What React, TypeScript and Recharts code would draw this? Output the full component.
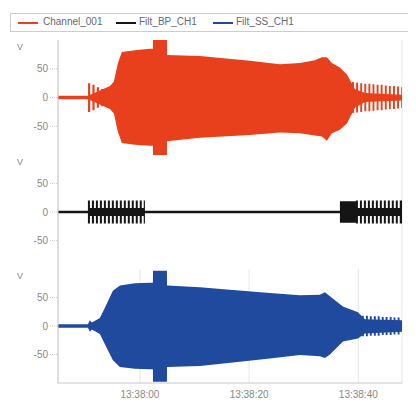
import { ComposedChart, Area, XAxis, YAxis, CartesianGrid } from "recharts";

// time in seconds after 13:38:00
const X_DOMAIN = [-15, 48];
const X_TICKS = [0, 20, 40];
const Y_TICKS = [-50, 0, 50];

const RED_T = [-15, -9.52, -7.33, -5.49, -4.76, -4.03, -3.3, -0.92, 1.83, 2.38, 2.4, 4.95, 4.97, 10.99, 20.15, 25.64, 29.3, 32.05, 33.33, 34.25, 35.16, 36.63, 37.91, 39.38, 41.21, 48];
const RED_HI = [3, 3, 12, 20, 28, 60, 79, 82, 85, 85, 100, 100, 74, 72, 64, 58, 60, 65, 70, 70, 60, 52, 40, 15, 8, 5];
const RED_LO = [-3, -3, -12, -20, -28, -60, -79, -82, -84, -84, -100, -100, -76, -70, -65, -61, -62, -66, -68, -75, -62, -56, -45, -18, -8, -5];
const RED_SPK_T = [-9.5, -9.1, -8.7, -8.3, -7.9, -7.5, -7.1, -6.7,
  38.1, 38.45, 38.85, 39.2, 39.6, 39.95, 40.35, 40.7, 41.1, 41.45, 41.85, 42.2, 42.6, 42.95, 43.35, 43.7, 44.1, 44.45, 44.85, 45.2, 45.6, 45.95, 46.35, 46.7, 47.1, 47.45, 47.85, 48];
const RED_SPK_A = [25, 0, 22, 0, 18, 0, 15, 0,
  28, 0, 27, 0, 26, 0, 25, 0, 24, 0, 24, 0, 23, 0, 22, 0, 22, 0, 21, 0, 20, 0, 20, 0, 19, 0, 18, 0];

const BLACK_T = [-15, 48];
const BLACK_HI = [2, 2];
const BLACK_LO = [-2, -2];
const BLACK_SPK_T = [-9.52, -9.15, -8.79, -8.42, -8.06, -7.69, -7.33, -6.96, -6.6, -6.23, -5.87, -5.5, -5.14, -4.77, -4.41, -4.04, -3.68, -3.31, -2.95, -2.58, -2.22, -1.85, -1.49, -1.12, -0.76, -0.39, -0.03, 0.34, 0.7, 0.92,
  36.63,
  39.56, 39.93, 40.29, 40.66, 41.02, 41.39, 41.75, 42.12, 42.48, 42.85, 43.21, 43.58, 43.94, 44.31, 44.67, 45.04, 45.4, 45.77, 46.13, 46.5, 46.86, 47.23, 47.59, 48];
const BLACK_SPK_A = [20, 7, 20, 7, 20, 7, 20, 7, 20, 7, 20, 7, 20, 7, 20, 7, 20, 7, 20, 7, 20, 7, 20, 7, 20, 7, 20, 7, 20, 0,
  19,
  20, 7, 20, 7, 20, 7, 20, 7, 20, 7, 20, 7, 20, 7, 20, 7, 20, 7, 20, 7, 20, 7, 20, 0];

const BLUE_T = [-15, -9.52, -9.16, -8.79, -7.33, -6.41, -4.95, -3.66, -0.92, 1.83, 2.38, 2.4, 4.95, 4.97, 10.99, 17.03, 23.81, 29.3, 32.97, 33.88, 34.8, 37.18, 39.93, 41.21, 48];
const BLUE_HI = [3, 3, 10, 6, 14, 32, 62, 71, 75, 76, 76, 97, 97, 71, 68, 63, 58, 54, 55, 59, 52, 34, 24, 12, 10];
const BLUE_LO = [-3, -3, -10, -6, -14, -32, -60, -72, -75, -76, -76, -98, -98, -72, -70, -64, -57, -51, -53, -56, -50, -27, -22, -13, -10];
const BLUE_SPK_T = [40.66, 41.0, 41.4, 41.75, 42.1, 42.45, 42.85, 43.2, 43.55, 43.9, 44.3, 44.65, 45.0, 45.35, 45.75, 46.1, 46.45, 46.8, 47.2, 47.55, 48];
const BLUE_SPK_A = [18, 0, 18, 0, 17, 0, 17, 0, 17, 0, 16, 0, 16, 0, 16, 0, 15, 0, 15, 0, 0];

const RED = "#e8401c";
const BLACK = "#151515";
const BLUE = "#1f4a9e";
const GREY = "#888";

type Row = { t: number; env: number[] | null; spk: number[] | null };

function buildRows(envT: number[], hi: number[], lo: number[], spkT: number[] = [], spkA: number[] = []) {
  const rows: Row[] = envT.map((t, i) => ({ t, env: [lo[i], hi[i]], spk: null }));
  spkT.forEach((t, i) => rows.push({ t, env: null, spk: [-spkA[i], spkA[i]] }));
  return rows.sort((a, b) => a.t - b.t);
}

const fmtTime = (t: number) => `13:38:${String(t).padStart(2, "0")}`;

function Panel({ data, color, height, showX }: { data: Row[]; color: string; height: number; showX?: boolean }) {
  const border = "#c8c8c8";
  return (
    <ComposedChart width={396} height={height} data={data} margin={{ top: 0, right: 2, bottom: 0, left: 0 }}>
      <CartesianGrid horizontal={false} stroke="#e6e6e6" />
      <XAxis dataKey="t" type="number" domain={X_DOMAIN} ticks={X_TICKS} allowDataOverflow
        height={showX ? 22 : 0} tick={showX ? { fontSize: 10, fill: GREY } : false}
        tickFormatter={fmtTime} tickLine={false} axisLine={{ stroke: border }} />
      <XAxis xAxisId="top" orientation="top" dataKey="t" type="number" domain={X_DOMAIN} allowDataOverflow
        height={0} tick={false} tickLine={false} axisLine={{ stroke: border }} />
      <YAxis domain={[-100, 100]} ticks={Y_TICKS} width={50} allowDataOverflow
        tick={{ fontSize: 10, fill: GREY }} tickSize={8} tickMargin={2}
        tickLine={{ stroke: "#ccc", strokeDasharray: "1 1" }} axisLine={{ stroke: border }} />
      <YAxis yAxisId="r" orientation="right" domain={[-100, 100]} width={0} tick={false} tickLine={false}
        axisLine={{ stroke: border }} />
      <Area dataKey="env" type="linear" connectNulls fill={color} fillOpacity={1} stroke="none" isAnimationActive={false} />
      <Area dataKey="spk" type="stepAfter" connectNulls fill={color} fillOpacity={1} stroke="none" isAnimationActive={false} />
    </ComposedChart>
  );
}

const legendItems = [
  { name: "Channel_001", color: RED, line: 7, text: 32 },
  { name: "Filt_BP_CH1", color: BLACK, line: 105, text: 128 },
  { name: "Filt_SS_CH1", color: BLUE, line: 202, text: 225 },
];

export default function App() {
  const red = buildRows(RED_T, RED_HI, RED_LO, RED_SPK_T, RED_SPK_A);
  const black = buildRows(BLACK_T, BLACK_HI, BLACK_LO, BLACK_SPK_T, BLACK_SPK_A);
  const blue = buildRows(BLUE_T, BLUE_HI, BLUE_LO, BLUE_SPK_T, BLUE_SPK_A);
  const vStyle = { position: "absolute" as const, left: 9, fontSize: 9, color: GREY };
  return (
    <div style={{ position: "relative", width: 400, height: 391, fontFamily: "Arial, 'Liberation Sans', sans-serif" }}>
      <div style={{ position: "absolute", left: 2, top: 5, width: 406, height: 19, border: "1px solid #ccc", borderRight: "none", boxSizing: "border-box" }}>
        {legendItems.map(it => (
          <div key={it.name}>
            <div style={{ position: "absolute", left: it.line, top: 8, width: 20, height: 1.5, background: it.color }} />
            <div style={{ position: "absolute", left: it.text, top: 2, fontSize: 10, color: "#667" }}>{it.name}</div>
          </div>
        ))}
      </div>
      <div style={{ position: "absolute", left: 0, top: 32 }}>
        <Panel data={red} color={RED} height={115} />
      </div>
      <div style={{ position: "absolute", left: 0, top: 147 }}>
        <Panel data={black} color={BLACK} height={114} />
      </div>
      <div style={{ position: "absolute", left: 0, top: 261 }}>
        <Panel data={blue} color={BLUE} height={136} showX />
      </div>
      <div style={{ ...vStyle, top: 34 }}>V</div>
      <div style={{ ...vStyle, top: 149 }}>V</div>
      <div style={{ ...vStyle, top: 263 }}>V</div>
    </div>
  );
}
